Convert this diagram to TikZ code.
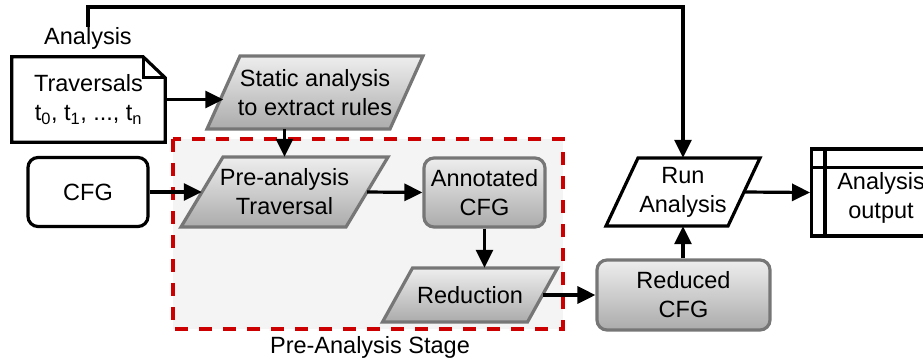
\documentclass[tikz,border=0pt]{standalone}
\usepackage{fontspec}
\setmainfont{Liberation Sans}
\usetikzlibrary{arrows.meta}
\definecolor{boxgray}{HTML}{767676}
\definecolor{shadetop}{HTML}{EEEEEE}
\definecolor{shadebot}{HTML}{ABABAB}
\definecolor{stagered}{HTML}{CC0000}
\definecolor{stagefill}{HTML}{F4F4F4}
% slanted box: #1 name, #2 style, (#3,#4) centre, #5 mid width, #6 height, #7 slant, #8 text
\newcommand\slantbox[8]{%
  \path[#2] ({#3-#5/2-#7/2},{#4+#6/2}) -- ({#3-#5/2+#7/2},{#4-#6/2})
    -- ({#3+#5/2+#7/2},{#4-#6/2}) -- ({#3+#5/2-#7/2},{#4+#6/2}) -- cycle;
  \node[minimum width=#5pt, minimum height=#6pt] (#1) at (#3,#4) {#8};}
\begin{document}
\begin{tikzpicture}[x=1pt,y=-1pt,
  every node/.style={font=\fontsize{23.5}{29}\selectfont, align=center, inner sep=0pt},
  blackline/.style={draw=black, line width=3.2pt},
  grayfill/.style={draw=boxgray, line width=3.2pt, top color=shadetop, bottom color=shadebot},
  roundbox/.style={rectangle, rounded corners=10pt},
  arr/.style={draw=black, line width=3.2pt, -{Triangle[length=18pt,width=17pt]}},
  stage/.style={draw=stagered, fill=stagefill, line width=4.2pt, dash pattern=on 13pt off 11pt}
]
\useasboundingbox (0,0) rectangle (923,362);

% pre-analysis stage frame
\draw[stage] (173,139) rectangle (563,329);
\node (stagelbl) at (370,347) {Pre-Analysis Stage};

% traversal description document
\node[minimum width=153pt, minimum height=85pt] (doc) at (88.5,99.5)
  {Traversals\\t\textsubscript{0}, t\textsubscript{1}, ..., t\textsubscript{n}};
\draw[blackline, line join=miter] (doc.north west) -- ([xshift=-22pt]doc.north east)
  -- ([yshift=-21pt]doc.north east) -- (doc.south east) -- (doc.south west) -- cycle;
\draw[blackline] ([xshift=-22pt]doc.north east) |- ([yshift=-21pt]doc.north east);
\node (anlbl) at (88,38) {Analysis};

% processing steps
\slantbox{stat}{grayfill}{315}{92.5}{183}{73}{33}{Static analysis\\to extract rules}
\node[roundbox, blackline, fill=white, minimum width=120pt, minimum height=69pt] (cfg) at (88,192) {CFG};
\slantbox{pre}{grayfill}{284.5}{192}{165}{70}{42}{Pre-analysis\\Traversal}
\node[roundbox, grayfill, minimum width=121pt, minimum height=69pt] (ann) at (484.5,192.5)
  {Annotated\\CFG};
\slantbox{red}{grayfill}{470}{295}{145}{54}{30}{Reduction}
\node[roundbox, grayfill, minimum width=173pt, minimum height=70pt] (rcfg) at (683.5,295)
  {Reduced\\CFG};
\slantbox{run}{blackline, fill=white}{683}{192}{122}{68}{32}{Run\\Analysis}

% analysis output store
\node[rectangle, blackline, minimum width=125pt, minimum height=87pt, anchor=west] (out) at (810,192.5) {};
\draw[blackline] ([xshift=15pt]out.north west) -- ([xshift=15pt]out.south west);
\draw[blackline] ([yshift=-20pt]out.north west) -- ([yshift=-20pt]out.north east);
\node (outtxt) at (881,198) {Analysis\\output};

% connectors
\draw[arr] (doc.east) -- (doc.east -| stat.west);
\draw[arr] (pre.north |- stat.south) -- (pre.north);
\draw[arr] (cfg.east) -- (pre.west);
\draw[arr] (pre.east) -- (ann.west);
\draw[arr] (ann.south) -- (ann.south |- red.north);
\draw[arr] (red.east) -- (rcfg.west);
\draw[arr] (rcfg.north -| run.south) -- (run.south);
\draw[arr, line join=miter] (anlbl.north) -- (anlbl.north |- 0,7) -| (run.north);
\draw[arr] (run.east) -- (out.west);
\end{tikzpicture}
\end{document}
